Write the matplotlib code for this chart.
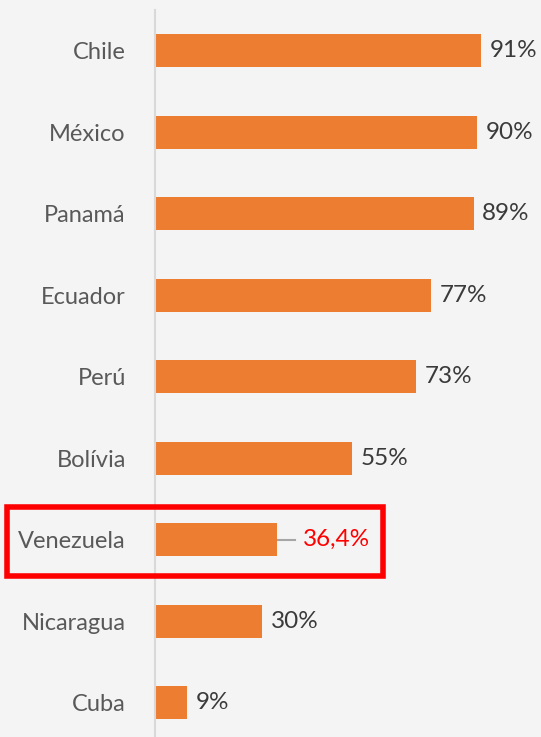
import matplotlib.pyplot as plt
from matplotlib.patches import Rectangle

countries = ["Chile", "México", "Panamá", "Ecuador", "Perú", "Bolívia",
             "Venezuela", "Nicaragua", "Cuba"]
# bar lengths as drawn (the Venezuela bar is drawn a little short of its label)
values = [91, 90, 89, 77, 73, 55, 34, 30, 9]
value_labels = ["91%", "90%", "89%", "77%", "73%", "55%", "36,4%", "30%", "9%"]
highlight = "Venezuela"

BG = "#f4f4f4"
BAR = "#ed7d31"

plt.rcParams["font.family"] = ["Lato", "DejaVu Sans"]

fig = plt.figure(figsize=(5.41, 7.37), dpi=100, facecolor=BG)
ax = fig.add_axes([155 / 541, 0, 358 / 541, 727 / 737])
ax.set_facecolor(BG)

n = len(countries)
ypos = [n - 1 - i for i in range(n)]
ax.barh(ypos, values, height=0.4, color=BAR, zorder=2)

ax.set_xlim(0, 100)
ax.set_ylim(-0.42, n - 0.5)
for s in ["top", "right", "bottom"]:
    ax.spines[s].set_visible(False)
ax.spines["left"].set_color("#d9d9d9")
ax.spines["left"].set_linewidth(1.5)
ax.set_xticks([])
ax.set_yticks(ypos)
ax.set_yticklabels(countries, fontsize=17, color="#595959")
ax.tick_params(axis="y", length=0, pad=21)

for y, v, lab, c in zip(ypos, values, value_labels, countries):
    if c == highlight:
        ax.plot([v + 0.3, v + 5.0], [y, y], color="#a6a6a6", lw=1.5, zorder=3)
        ax.text(v + 7.2, y, lab, va="center", ha="left", fontsize=17.5,
                color="#ff0000")
    else:
        ax.text(v + 2.4, y, lab, va="center", ha="left", fontsize=17.5,
                color="#3a3a3a")

# red box around the highlighted row
fig.patches.append(Rectangle((7 / 541, 1 - 576 / 737), 376 / 541, 69 / 737,
                             transform=fig.transFigure, fill=False,
                             edgecolor="#ff0000", linewidth=4, zorder=5))

fig.savefig("out.png", dpi=100, facecolor=BG)
